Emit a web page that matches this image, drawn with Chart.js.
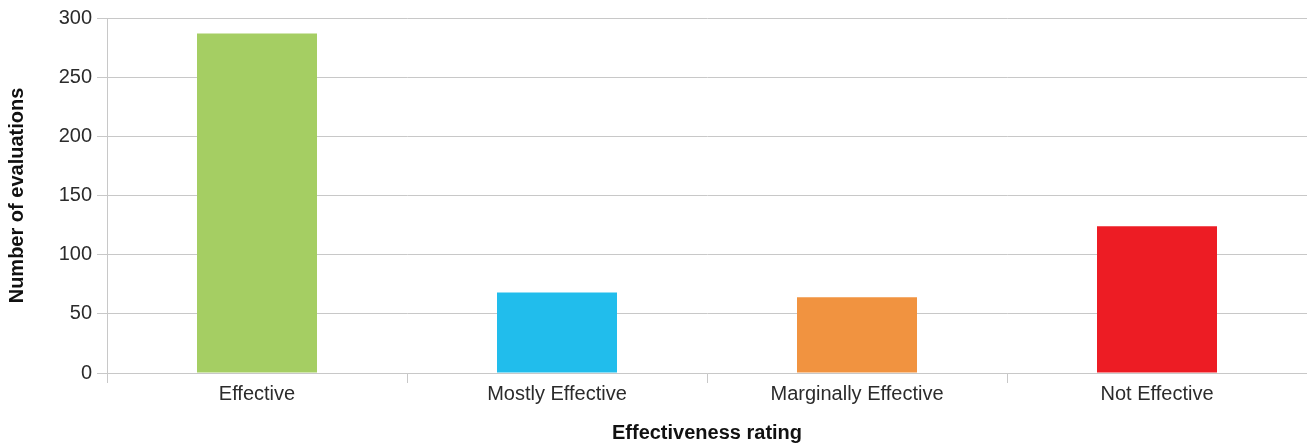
<!DOCTYPE html>
<html>
<head>
<meta charset="utf-8">
<script src="https://cdn.jsdelivr.net/npm/chart.js@4/dist/chart.umd.min.js"></script>
<style>
  html, body { margin: 0; padding: 0; background: #fff; }
  #wrap { width: 1307px; height: 445px; position: relative; }
</style>
</head>
<body>
<div id="wrap"><canvas id="c" width="1307" height="445"></canvas></div>
<script>
// Evaluations by effectiveness rating
const categories = ['Effective', 'Mostly Effective', 'Marginally Effective', 'Not Effective'];
const evaluations = [287, 68, 64, 124];
const barColors = ['#a5ce63', '#21bdec', '#f19340', '#ed1c24'];
const yTicks = [0, 50, 100, 150, 200, 250, 300];

const gridGray = '#c8c8c8';
const textColor = '#2b2b2b';
const family = '"Liberation Sans", Arial, sans-serif';

new Chart(document.getElementById('c'), {
  type: 'bar',
  data: {
    labels: categories,
    datasets: [{
      data: evaluations,
      backgroundColor: barColors,
      borderWidth: 0,
      barPercentage: 0.4,
      categoryPercentage: 1.0
    }]
  },
  options: {
    responsive: false,
    animation: false,
    devicePixelRatio: 1,
    layout: { padding: { top: 18, right: 0, bottom: 0, left: 0 } },
    plugins: {
      legend: { display: false },
      tooltip: { enabled: false }
    },
    scales: {
      x: {
        afterFit(scale) { scale.height = 72; },
        grid: {
          display: true,
          drawOnChartArea: false,
          drawTicks: true,
          tickLength: 10,
          color: gridGray,
          lineWidth: 1
        },
        border: { display: true, color: gridGray, width: 1 },
        ticks: {
          color: textColor,
          font: { family, size: 20, lineHeight: 1 },
          padding: 1,
          maxRotation: 0
        },
        title: {
          display: true,
          text: 'Effectiveness rating',
          color: '#111',
          font: { family, size: 20, weight: 'bold' },
          padding: { top: 0, bottom: 0 }
        }
      },
      y: {
        min: 0,
        max: 300,
        afterFit(scale) { scale.width = 107; },
        afterBuildTicks(scale) { scale.ticks = yTicks.map(v => ({ value: v })); },
        grid: {
          color: gridGray,
          lineWidth: 1,
          drawTicks: true,
          tickLength: 10
        },
        border: { display: true, color: gridGray, width: 1 },
        ticks: {
          color: textColor,
          font: { family, size: 20 },
          padding: 5
        },
        title: {
          display: true,
          text: 'Number of evaluations',
          color: '#111',
          font: { family, size: 20, weight: 'bold' },
          padding: { top: 5, bottom: 0 }
        }
      }
    }
  }
});
</script>
</body>
</html>
